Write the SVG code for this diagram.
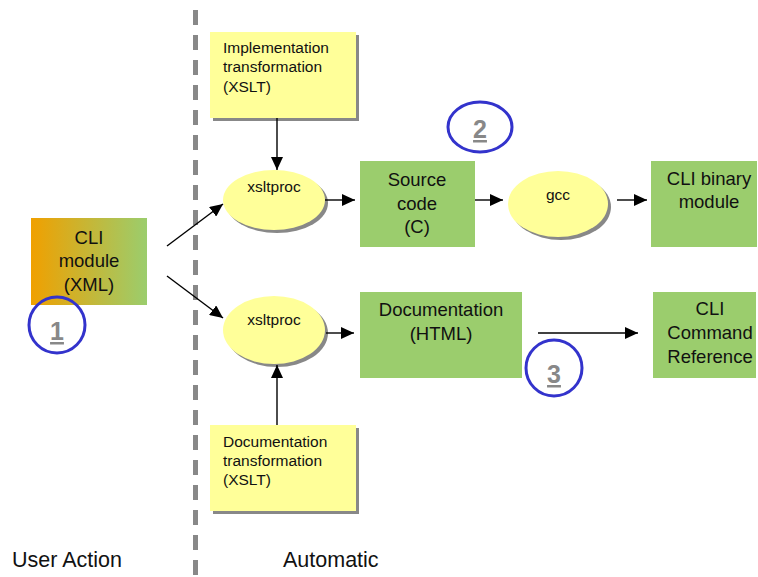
<svg xmlns="http://www.w3.org/2000/svg" width="758" height="577" viewBox="0 0 758 577">
<style>
text{font-family:"Liberation Sans",Arial,sans-serif;fill:#111}
.big{font-size:18.5px;text-anchor:middle}
.small{font-size:15.5px}
.ell{font-size:15.5px;text-anchor:middle}
.green{fill:#9BCD6D}
.yel{fill:#FFFF99}
.shadow{fill:#888888}
.conn{stroke:#000;stroke-width:1.4;fill:none}
.num{fill:none;stroke:#3333CC;stroke-width:3}
.digit{font-size:25px;font-weight:bold;fill:#888888;text-anchor:middle}
.label{font-size:21.5px}
</style>
<defs>
<linearGradient id="grad" x1="0" y1="0" x2="1" y2="0">
<stop offset="0" stop-color="#F0A000"/>
<stop offset="1" stop-color="#9BCD6D"/>
</linearGradient>
<marker id="arr" markerUnits="userSpaceOnUse" markerWidth="14" markerHeight="12" refX="13" refY="6" orient="auto">
<path d="M0,0 L13,6 L0,12 Z" fill="#000"/>
</marker>
</defs>
<rect width="758" height="577" fill="#fff"/>
<line x1="195.5" y1="10" x2="195.5" y2="577" stroke="#888888" stroke-width="5" stroke-dasharray="15 10"/>
<g id="cli-module">
<rect x="31" y="218" width="116" height="87" fill="url(#grad)"/>
<text class="big" x="89" y="244">CLI</text>
<text class="big" x="89" y="267">module</text>
<text class="big" x="89" y="291">(XML)</text>
</g>
<g id="impl-xslt">
<rect class="shadow" x="213" y="35" width="146" height="86"/>
<rect class="yel" x="210" y="32" width="146" height="86"/>
<text class="small" x="223" y="53">Implementation</text>
<text class="small" x="223" y="72">transformation</text>
<text class="small" x="223" y="92">(XSLT)</text>
</g>
<g id="xsltproc-1">
<ellipse class="shadow" cx="277" cy="203" rx="51" ry="30"/>
<ellipse class="yel" cx="274" cy="200" rx="51" ry="30"/>
<text class="ell" x="274" y="192">xsltproc</text>
</g>
<g id="source-code">
<rect class="green" x="360" y="161" width="115" height="86"/>
<text class="big" x="417" y="186">Source</text>
<text class="big" x="417" y="209.5">code</text>
<text class="big" x="417" y="233">(C)</text>
</g>
<g id="gcc">
<ellipse class="shadow" cx="561" cy="207" rx="50" ry="33"/>
<ellipse class="yel" cx="558" cy="204" rx="50" ry="33"/>
<text class="ell" x="558" y="200">gcc</text>
</g>
<g id="cli-binary">
<rect class="green" x="651" y="161" width="106" height="86"/>
<text class="big" x="709" y="185">CLI binary</text>
<text class="big" x="709" y="208">module</text>
</g>
<g id="xsltproc-2">
<ellipse class="shadow" cx="277" cy="333" rx="51" ry="34"/>
<ellipse class="yel" cx="274" cy="330" rx="51" ry="34"/>
<text class="ell" x="274" y="325">xsltproc</text>
</g>
<g id="documentation-html">
<rect class="green" x="360" y="292" width="162" height="86"/>
<text class="big" x="441" y="316">Documentation</text>
<text class="big" x="441" y="340">(HTML)</text>
</g>
<g id="cli-command-reference">
<rect class="green" x="653" y="292" width="103" height="86"/>
<text class="big" x="710" y="315">CLI</text>
<text class="big" x="710" y="339">Command</text>
<text class="big" x="710" y="363">Reference</text>
</g>
<g id="doc-xslt">
<rect class="shadow" x="213" y="428" width="146" height="86"/>
<rect class="yel" x="210" y="425" width="146" height="86"/>
<text class="small" x="223" y="447">Documentation</text>
<text class="small" x="223" y="466">transformation</text>
<text class="small" x="223" y="485">(XSLT)</text>
</g>
<g id="step-1">
<circle class="num" cx="57" cy="325" r="28"/>
<text class="digit" x="57" y="340" text-decoration="underline">1</text>
</g>
<g id="step-2">
<ellipse class="num" cx="480" cy="127" rx="32" ry="25"/>
<text class="digit" x="480" y="138" text-decoration="underline">2</text>
</g>
<g id="step-3">
<circle class="num" cx="554" cy="368" r="28"/>
<text class="digit" x="554" y="383" text-decoration="underline">3</text>
</g>
<g id="connectors">
<line class="conn" x1="167" y1="246" x2="223" y2="204" marker-end="url(#arr)"/>
<line class="conn" x1="167" y1="276" x2="223" y2="318" marker-end="url(#arr)"/>
<line class="conn" x1="277" y1="118" x2="277" y2="170" marker-end="url(#arr)"/>
<line class="conn" x1="325" y1="200" x2="355" y2="200" marker-end="url(#arr)"/>
<line class="conn" x1="475" y1="200" x2="503" y2="200" marker-end="url(#arr)"/>
<line class="conn" x1="617" y1="200" x2="647" y2="200" marker-end="url(#arr)"/>
<line class="conn" x1="277" y1="425" x2="277" y2="365" marker-end="url(#arr)"/>
<line class="conn" x1="326" y1="333" x2="354" y2="333" marker-end="url(#arr)"/>
<line class="conn" x1="538" y1="333" x2="638" y2="333" marker-end="url(#arr)"/>
</g>
<text class="label" x="12" y="567">User Action</text>
<text class="label" x="283" y="567">Automatic</text>
</svg>
